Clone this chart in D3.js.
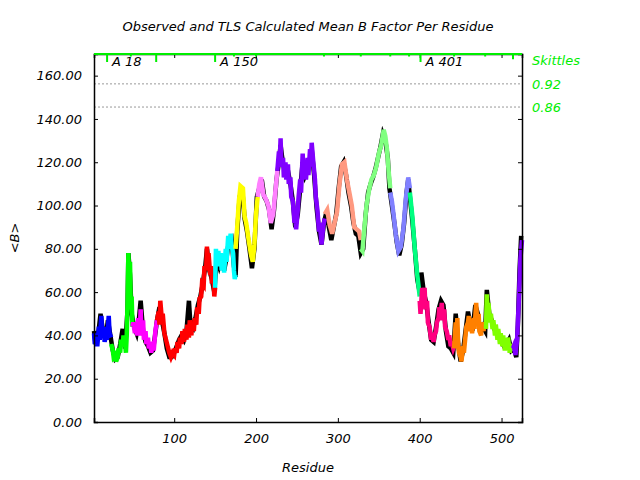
<!DOCTYPE html>
<html>
<head>
<meta charset="utf-8">
<script src="https://cdn.jsdelivr.net/npm/d3@7"></script>
<style>
  body { margin: 0; background: #fff; }
  text { font-family: "DejaVu Sans", sans-serif; font-style: italic; }
</style>
</head>
<body>
<div id="chart"></div>
<script>
// segment colours, one per TLS group
const segColors = ["#0000ff", "#00ff00", "#ff00ff", "#ff0000", "#00ffff", "#ffff00", "#ff80ff", "#8000ff",
                   "#ff9980", "#80ff80", "#8080ff", "#00ff80", "#ff0080", "#ff8000", "#80ff00", "#8000ff"];

// TLS calculated mean B, per segment
const tlsResidues = [
  [2, 3, 5, 6, 8, 9, 11, 12, 14, 15, 17, 18, 20, 21, 23],
  [23, 25, 26, 28, 29, 31, 32, 34, 35, 37, 38, 40, 41, 42, 43, 44, 45, 46, 47, 48, 49],
  [49, 50, 52, 53, 55, 56, 58, 59, 60, 62, 63, 65, 66, 68, 69, 71, 72, 74, 75, 77, 79],
  [79, 81, 82, 83, 85, 86, 88, 90, 92, 94, 96, 98, 100, 101, 103, 104, 106, 107, 109, 110, 112, 113, 115, 116, 118, 119,
   121, 122, 124, 125, 127, 128, 130, 131, 133, 134, 136, 137, 139, 140, 141, 142, 144, 145, 146, 148, 149, 150],
  [150, 151, 152, 154, 155, 157, 158, 160, 161, 163, 164, 166, 167, 169, 170, 172, 173, 174, 175],
  [175, 177, 179, 181, 184, 186, 188, 191, 194, 196, 198, 200, 202],
  [202, 204, 206, 209, 212, 215, 218, 221, 224, 226],
  [226, 228, 229, 230, 231, 233, 234, 236, 237, 239, 240, 242, 243, 245, 247, 248, 249, 251, 252, 254, 255, 257, 258, 260,
   261, 263, 264, 266, 267, 268, 270, 272, 273, 275, 277, 278, 280, 282, 284],
  [284, 287, 290, 293, 296, 299, 302, 305, 308, 311, 314, 317, 320, 323, 326, 328],
  [328, 330, 332, 335, 338, 341, 344, 347, 350, 353, 356, 358, 360, 362, 364],
  [364, 366, 368, 371, 374, 377, 380, 383, 386, 388],
  [388, 391, 394, 397, 400],
  [400, 401, 403, 404, 406, 407, 409, 410, 412, 414, 415, 417, 418, 420, 421, 423, 424, 425, 427, 428, 430, 431, 433, 435,
   436, 438, 439, 441, 442],
  [442, 444, 445, 446, 447, 448, 450, 451, 453, 454, 456, 457, 459, 460, 461, 463, 464, 466, 467, 469, 470, 472, 473, 475,
   476, 478, 479, 481],
  [481, 482, 483, 484, 486, 487, 489, 490, 492, 493, 495, 496, 498, 499, 501, 502, 504, 505, 507, 508, 510, 511, 513, 514],
  [514, 515, 517, 519, 521, 523, 525]
];
const tlsValues = [
  [41, 36, 38, 35, 44, 38, 49, 40, 44, 37, 41, 38, 49, 41, 39],
  [36, 33, 30, 31, 28, 30, 34, 32, 38, 35, 40, 36, 32, 40, 55, 78, 66, 74, 52, 58, 44],
  [44, 46, 41, 45, 40, 48, 42, 52, 40, 47, 38, 42, 36, 39, 34, 36, 32, 37, 33, 42, 47],
  [47, 51, 45, 56, 47, 50, 41, 38, 35, 32, 30, 32, 31, 34, 32, 37, 34, 39, 36, 42, 37, 43, 38, 45, 39, 47,
   40, 46, 42, 48, 45, 53, 50, 57, 58, 64, 63, 72, 70, 81, 74, 78, 68, 72, 64, 66, 58, 62],
  [62, 80, 74, 79, 72, 78, 70, 75, 69, 80, 74, 86, 80, 87, 82, 78, 70, 66, 68],
  [80, 90, 102, 109, 108, 95, 92, 84, 77, 74, 82, 96, 104],
  [104, 110, 113, 105, 103, 100, 92, 96, 108, 116],
  [116, 125, 120, 131, 118, 122, 113, 120, 112, 119, 110, 113, 104, 102, 92, 95, 89, 98, 104, 112, 106, 124, 114, 120,
   112, 122, 114, 126, 118, 129, 120, 112, 104, 98, 88, 92, 82, 90, 94],
  [96, 98, 91, 87, 92, 97, 110, 119, 120, 112, 106, 100, 90, 89, 88, 84],
  [80, 79, 88, 100, 107, 112, 114, 118, 124, 128, 135, 132, 126, 116, 108],
  [106, 102, 96, 86, 79, 81, 89, 103, 113, 108],
  [106, 95, 80, 68, 58],
  [56, 50, 62, 54, 62, 52, 56, 46, 44, 38, 41, 37, 40, 42, 46, 48, 53, 47, 55, 49, 52, 44, 42, 38,
   40, 35, 37, 34, 35],
  [34, 46, 38, 48, 36, 32, 30, 28, 35, 32, 40, 44, 46, 49, 42, 46, 41, 48, 43, 55, 48, 50, 42, 40,
   46, 42, 46, 43],
  [43, 59, 52, 55, 46, 50, 43, 47, 40, 45, 38, 43, 36, 41, 35, 40, 33, 37, 34, 39, 32, 36, 33, 35],
  [34, 35, 31, 38, 55, 75, 84]
];

// observed mean B (black)
const obsResidues = [2, 4, 7, 10, 13, 16, 19, 22, 25, 28, 31, 34, 37, 40, 43, 44, 46, 48, 51, 54, 57, 59, 62, 65, 68, 71, 74, 77, 79,
  82, 85, 88, 91, 94, 97, 100, 103, 106, 109, 112, 115, 118, 120, 123, 126, 129, 132, 135, 138, 140, 143, 146, 149, 152, 155, 158,
  161, 164, 167, 170, 173, 175, 177, 180, 183, 186, 189, 192, 195, 198, 201, 204, 207, 210, 213, 216, 219, 222, 225, 228, 230, 233,
  236, 239, 242, 245, 248, 251, 254, 257, 260, 263, 266, 268, 271, 274, 277, 280, 283, 286, 289, 292, 295, 298, 301, 304, 307, 310,
  313, 316, 319, 322, 325, 328, 331, 334, 337, 340, 343, 346, 349, 352, 355, 358, 361, 363, 366, 369, 372, 375, 378, 381, 384, 386,
  388, 391, 394, 397, 400, 402, 405, 408, 411, 414, 417, 420, 423, 426, 429, 432, 435, 438, 441, 444, 447, 450, 453, 456, 459, 462,
  465, 468, 471, 474, 477, 480, 482, 485, 488, 491, 494, 497, 500, 503, 506, 509, 512, 515, 518, 520, 522, 524];
const obsValues = [42, 36, 40, 50, 42, 38, 47, 40, 33, 29, 30, 36, 43, 34, 52, 78, 68, 50, 44, 41, 48, 56, 42, 37, 35, 32, 33, 41, 47,
  53, 47, 41, 34, 30, 30, 32, 35, 38, 40, 38, 42, 56, 44, 43, 48, 54, 58, 64, 72, 80, 70, 66, 60, 76, 72, 76,
  70, 76, 84, 85, 72, 67, 88, 104, 108, 94, 88, 80, 71, 80, 104, 108, 112, 104, 102, 98, 89, 98, 112, 120, 128, 119,
  115, 116, 110, 102, 90, 96, 108, 120, 114, 117, 122, 126, 114, 99, 88, 82, 92, 97, 90, 84, 90, 96, 108, 118, 120, 114,
  106, 100, 92, 87, 86, 78, 80, 96, 106, 110, 113, 117, 122, 127, 133, 130, 122, 108, 100, 92, 83, 77, 82, 92, 106, 112,
  104, 93, 80, 66, 60, 69, 60, 55, 46, 38, 37, 44, 52, 56, 54, 42, 35, 34, 32, 50, 36, 28, 33, 42, 51, 45,
  44, 54, 50, 41, 44, 42, 61, 50, 47, 43, 42, 39, 37, 35, 36, 38, 33, 34, 30, 45, 70, 86];

const yTicks = [0, 20, 40, 60, 80, 100, 120, 140, 160];
const xTicks = [100, 200, 300, 400, 500];

// segmentation marks along the top
const markResidues = [18, 47, 78, 150, 173, 200, 283, 328, 364, 387, 401, 442, 480, 514];
const markLevels = [3, 1, 3, 3, 1, 1, 1, 1, 1, 1, 3, 1, 1, 2];
const chainLabels = ["A 18", "A 150", "A 401"];
const chainLabelResidues = [18, 150, 401];

// skittle rows on the right
const skittleLabels = ["Skittles", "0.92", "0.86"];
const skittleValues = [null, 156.2, 145.5];

const width = 640, height = 480;
const margin = {top: 54, right: 118, bottom: 58, left: 94};

const svg = d3.select("#chart").append("svg")
    .attr("width", width)
    .attr("height", height);

const x = d3.scaleLinear().domain([2, 525]).range([margin.left, width - margin.right]);
const y = d3.scaleLinear().domain([0, 170]).range([height - margin.bottom, margin.top]);
const markLen = d3.scaleLinear().domain([1, 3]).range([2.5, 8]);

const green = "#00ee00";

// dotted reference lines
skittleValues.forEach(v => {
    if (v == null) return;
    svg.append("line")
        .attr("x1", x.range()[0]).attr("x2", x.range()[1])
        .attr("y1", y(v)).attr("y2", y(v))
        .attr("stroke", "#999").attr("stroke-dasharray", "2,2");
});

const line = d3.line()
    .x(d => x(d[0]))
    .y(d => y(d[1]));

// observed line
svg.append("path")
    .datum(obsResidues.map((r, i) => [r, obsValues[i]]))
    .attr("d", line)
    .attr("fill", "none")
    .attr("stroke", "#000")
    .attr("stroke-width", 4.5)
    .attr("stroke-linejoin", "miter");

// TLS segments
tlsResidues.forEach((res, s) => {
    svg.append("path")
        .datum(res.map((r, i) => [r, tlsValues[s][i]]))
        .attr("d", line)
        .attr("fill", "none")
        .attr("stroke", segColors[s])
        .attr("stroke-width", 4.5)
        .attr("stroke-linejoin", "miter");
});

// axes (ticks pointing inward)
svg.append("g")
    .attr("transform", `translate(${margin.left},0)`)
    .call(d3.axisLeft(y).tickValues(yTicks).tickSize(-4).tickPadding(12).tickFormat(d3.format(".2f")))
    .call(g => g.selectAll("text").attr("font-size", 13).attr("fill", "#000"));

svg.append("g")
    .attr("transform", `translate(${width - margin.right},0)`)
    .call(d3.axisRight(y).tickValues(yTicks).tickSize(-4).tickFormat(""));

svg.append("g")
    .attr("transform", `translate(0,${height - margin.bottom})`)
    .call(d3.axisBottom(x).tickValues(xTicks).tickSize(-4).tickPadding(12).tickFormat(d3.format("d")))
    .call(g => g.selectAll("text").attr("font-size", 13).attr("fill", "#000"));

svg.append("g")
    .attr("transform", `translate(0,${margin.top})`)
    .call(d3.axisTop(x).tickValues(xTicks).tickSize(-4).tickFormat(""));

svg.selectAll(".domain").attr("stroke", "#000").attr("stroke-width", 1.5);

// top border in green plus segment marks
svg.append("line")
    .attr("x1", x.range()[0]).attr("x2", x.range()[1])
    .attr("y1", margin.top).attr("y2", margin.top)
    .attr("stroke", green).attr("stroke-width", 2);

svg.selectAll(".mark")
    .data(markResidues)
    .enter().append("line")
    .attr("x1", d => x(d)).attr("x2", d => x(d))
    .attr("y1", margin.top)
    .attr("y2", (d, i) => margin.top + markLen(markLevels[i]))
    .attr("stroke", green).attr("stroke-width", 2);

svg.selectAll(".chain")
    .data(chainLabels)
    .enter().append("text")
    .attr("x", (d, i) => x(chainLabelResidues[i]) + 5)
    .attr("y", margin.top + 12)
    .attr("font-size", 13)
    .text(d => d);

// skittle labels
skittleLabels.forEach((t, i) => {
    svg.append("text")
        .attr("x", width - margin.right + 10)
        .attr("y", i === 0 ? margin.top + 11 : y(skittleValues[i]) + 5)
        .attr("font-size", 13)
        .attr("fill", green)
        .text(t);
});

// titles
svg.append("text")
    .attr("x", (x.range()[0] + x.range()[1]) / 2)
    .attr("y", 31)
    .attr("text-anchor", "middle")
    .attr("font-size", 13)
    .text("Observed and TLS Calculated Mean B Factor Per Residue");

svg.append("text")
    .attr("x", (x.range()[0] + x.range()[1]) / 2)
    .attr("y", 472)
    .attr("text-anchor", "middle")
    .attr("font-size", 13)
    .text("Residue");

svg.append("text")
    .attr("transform", `translate(19,${(y.range()[0] + y.range()[1]) / 2}) rotate(-90)`)
    .attr("text-anchor", "middle")
    .attr("font-size", 13)
    .text("<B>");
</script>
</body>
</html>
